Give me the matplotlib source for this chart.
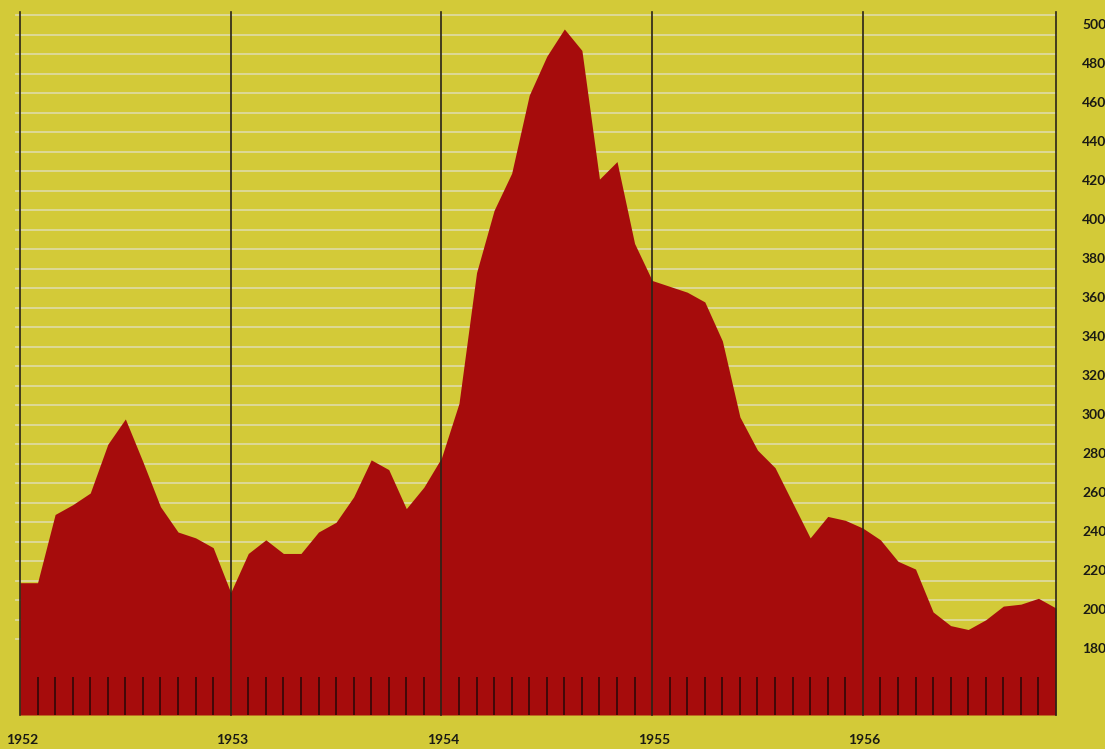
import matplotlib
matplotlib.use("Agg")
import matplotlib.pyplot as plt
import matplotlib.transforms as mtransforms
import numpy as np

# Monthly values, Jan 1952 .. Dec 1956
values = [214, 214, 249, 254, 260, 285, 298, 276, 253, 240, 237, 232,
          209, 229, 236, 229, 229, 240, 245, 258, 277, 272, 252, 263,
          278, 306, 373, 405, 424, 464, 484, 498, 487, 421, 430, 388,
          369, 366, 363, 358, 338, 299, 282, 273, 255, 237, 248, 246,
          242, 236, 225, 221, 199, 192, 190, 195, 202, 203, 206, 201]
years = ["1952", "1953", "1954", "1955", "1956"]
y_labels = [180, 200, 220, 240, 260, 280, 300, 320, 340, 360, 380, 400,
            420, 440, 460, 480, 500]

YELLOW = "#D3CA38"
RED = "#A60C0C"
GRID = "#DEDA9E"
DARK = "#2A2418"

W, H = 1105, 749
fig = plt.figure(figsize=(W / 100, H / 100), dpi=100, facecolor=YELLOW)
ax = fig.add_axes([20 / W, (H - 715) / H, (1056 - 20) / W, (715 - 12) / H])
ax.set_facecolor(YELLOW)

x = np.arange(len(values))
ymin, ymax = 146.15, 506.7
ax.set_xlim(0, len(values) - 1)
ax.set_ylim(ymin, ymax)

# grid lines (between label positions)
for g in np.arange(185, 506, 10):
    ax.axhline(g, color=GRID, lw=1.3, zorder=1, xmin=-4 / 1036, clip_on=False)

ax.fill_between(x, ymin, values, color=RED, lw=0, zorder=2)

# year lines
year_pos = [12 * i for i in range(len(years))] + [len(values) - 1]
for xp in year_pos:
    ax.axvline(xp, color=DARK, lw=1.2, zorder=3, clip_on=False)

# month ticks at bottom
months = [m for m in x if m not in year_pos]
ax.vlines(months, ymin, 165.6, color="#3A0808", lw=1.3, zorder=3)

for s in ax.spines.values():
    s.set_visible(False)
ax.set_xticks([])
ax.set_yticks([])

font = dict(family=["Lato", "DejaVu Sans"], fontweight="bold", fontsize=10,
            color="#1A1A14")

# right labels
tr_r = mtransforms.blended_transform_factory(fig.transFigure, ax.transData)
for v in y_labels:
    ax.text(1082 / W, v, str(v), transform=tr_r, ha="left", va="center",
            **font)

# year labels
tr_b = mtransforms.blended_transform_factory(ax.transData, fig.transFigure)
for i, yl in enumerate(years):
    ax.text(12 * i + 0.1, (H - 740) / H, yl, transform=tr_b, ha="center",
            va="center", **font)

fig.savefig("out.png", dpi=100, facecolor=YELLOW)
